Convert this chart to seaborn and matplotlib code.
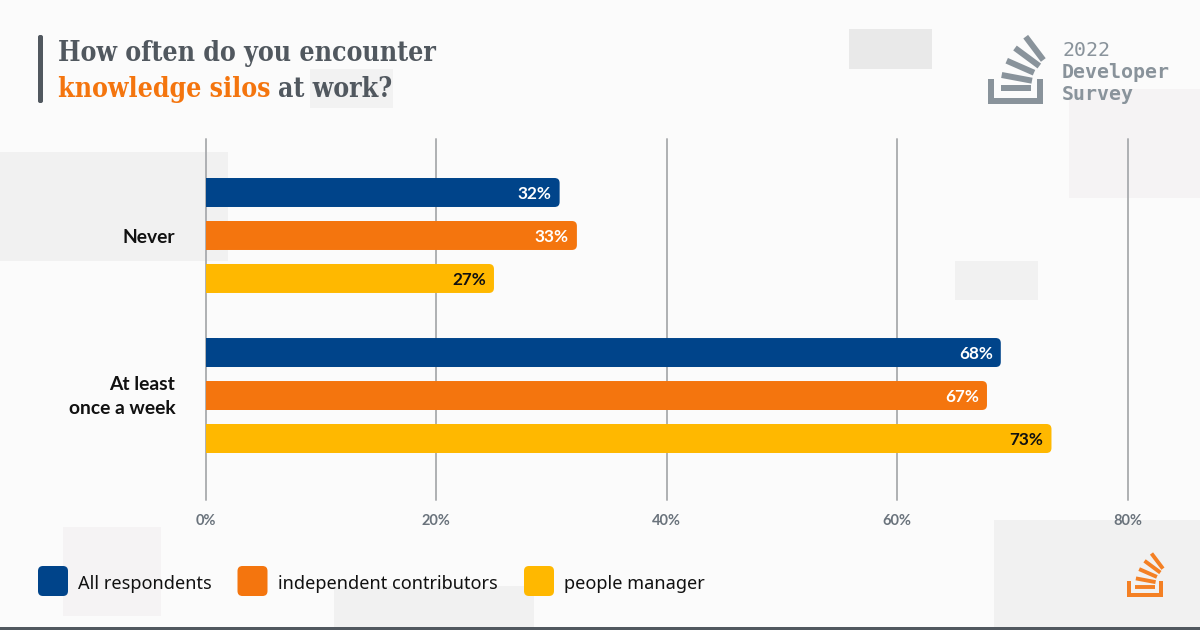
import numpy as np
import pandas as pd
import seaborn as sns
import matplotlib.pyplot as plt
from matplotlib.patches import FancyBboxPatch, Rectangle
from matplotlib.transforms import IdentityTransform

sns.set_theme(style="white")
SANS = "Noto Sans"
BOLD = "Lato"
SLAB = "DejaVu Serif"
MONO = "DejaVu Sans Mono"

# what the picture shows: bar lengths and the printed labels differ a bit
categories = ["Never", "At least\nonce a week"]
groups = ["All respondents", "independent contributors", "people manager"]
never_vals = [30.7, 32.2, 25.0]
week_vals = [69.0, 67.8, 73.4]
never_labels = ["32%", "33%", "27%"]
week_labels = ["68%", "67%", "73%"]
xticks = [0, 20, 40, 60, 80]
colors = ["#00448a", "#f4750e", "#ffb800"]
label_colors = ["white", "white", "#111111"]

GRAY = "#51585f"
BG = "#fbfbfb"
W, H = 1200, 630

df = pd.DataFrame({
    "answer": [categories[0]] * 3 + [categories[1]] * 3,
    "group": groups * 2,
    "value": never_vals + week_vals,
})

fig = plt.figure(figsize=(12, 6.3), dpi=100, facecolor=BG)

# backdrop axes in pixel coordinates, y pointing down
bg = fig.add_axes([0, 0, 1, 1], zorder=0)
bg.set_xlim(0, W)
bg.set_ylim(H, 0)
bg.axis("off")

boxes = [
    (849, 29, 83, 40, "#e9e9e9"), (310, 69, 83, 39, "#f2f2f2"),
    (1069, 89, 131, 109, "#f5f3f4"), (0, 152, 228, 109, "#f1f1f1"),
    (955, 261, 83, 39, "#f1f1f1"), (63, 527, 98, 89, "#f5f3f4"),
    (334, 586, 200, 41, "#f1f1f1"), (994, 520, 206, 107, "#f1f1f1"),
]
for x, y, w, h, c in boxes:
    bg.add_patch(Rectangle((x, y), w, h, fc=c, ec="none"))
bg.add_patch(Rectangle((0, 627), W, 3, fc=GRAY, ec="none"))


def draw_logo(x0, y0, scale, color):
    # stacked papers + tray, sizes taken from the big logo
    lw = 6 * scale * 72 / 100
    strips = [
        ((12.7, 9.3), (43.3, 9.3)), ((13.7, -4), (44, 1.7)),
        ((18.7, -18.3), (46, -6.3)), ((27, -31), (51.3, -13)),
        ((37.7, -42.3), (55.3, -19)),
    ]
    for a, b in strips:
        bg.plot([x0 + scale * a[0], x0 + scale * b[0]],
                [y0 + scale * a[1], y0 + scale * b[1]],
                color=color, lw=lw, solid_capstyle="butt")
    t = 6 * scale
    bg.add_patch(Rectangle((x0, y0), t, 25 * scale, fc=color, ec="none"))
    bg.add_patch(Rectangle((x0 + 49 * scale, y0), t, 25 * scale, fc=color, ec="none"))
    bg.add_patch(Rectangle((x0, y0 + 25 * scale - t), 55 * scale, t, fc=color, ec="none"))


draw_logo(988, 79, 1.0, "#89939b")
draw_logo(1127, 581, 0.65, "#f48024")
bg.set_xlim(0, W)
bg.set_ylim(H, 0)

# chart axes: 0-80% spans x=206..1127, y=139..500
ax = fig.add_axes([206 / W, 1 - 500 / H, 921.5 / W, 361 / H], zorder=1)
ax.patch.set_alpha(0)
sns.barplot(data=df, y="answer", x="value", hue="group", palette=colors,
            hue_order=groups, order=categories, orient="h", width=0.806,
            gap=0.326, legend=False, ax=ax, zorder=3, saturation=1)
ax.set_xlim(0, 80)
ax.set_ylim(1.653, -0.603)
ax.set_xlabel("")
ax.set_ylabel("")
sns.despine(ax=ax, left=True, bottom=True)
ax.set_xticks(xticks)
ax.set_xticklabels([f"{v}%" for v in xticks], fontfamily=BOLD, fontweight="bold",
                   fontsize=10.5, color="#6a737c")
ax.tick_params(axis="x", length=0, pad=10)
ax.tick_params(axis="y", length=0)
ax.set_yticklabels([])
# category labels as annotations, nudged to sit where the original has them
for i, (cat, dy) in enumerate(zip(categories, [-1.2, -0.8])):
    ax.annotate(cat, (0, i), xytext=(-22, dy), textcoords="offset points", ha="right",
                va="center", multialignment="right", linespacing=1.5, fontfamily=BOLD,
                fontweight="bold", fontsize=13.9, color="#111111", annotation_clip=False)
for v in xticks:
    ax.axvline(v, color="#aeb0b3", lw=1.4, zorder=1, clip_on=False)

# swap square bars for rounded ones, same place and size
fig.canvas.draw()
bars = sorted([p for p in ax.patches if p.get_width() > 0], key=lambda p: p.get_y())
printed = never_labels + week_labels
for i, p in enumerate(bars):
    (x0, y1), (x1, y0) = ax.transData.transform(
        [(p.get_x(), p.get_y()), (p.get_x() + p.get_width(), p.get_y() + p.get_height())])
    ax.add_patch(Rectangle((x0, y0), 12, y1 - y0, fc=colors[i % 3], ec="none",
                           transform=IdentityTransform(), zorder=4))
    ax.add_patch(FancyBboxPatch((x0 + 4, y0 + 4), x1 - x0 - 8, y1 - y0 - 8,
                                boxstyle="round,pad=4,rounding_size=5",
                                fc=colors[i % 3], ec="none",
                                transform=IdentityTransform(), zorder=4))
    p.set_visible(False)
    ax.annotate(printed[i], (p.get_x() + p.get_width(), p.get_y() + p.get_height() / 2),
                xytext=(-5.8, 0), textcoords="offset points", ha="right", va="center_baseline",
                color=label_colors[i % 3], fontfamily=BOLD, fontweight="bold",
                fontsize=12.3, zorder=5)

# title block
bg.add_patch(FancyBboxPatch((39.5, 36.5), 2, 65, boxstyle="round,pad=1.5,rounding_size=2",
                            fc=GRAY, ec="none"))
title_kw = dict(family=SLAB, weight="bold", stretch="condensed", fontsize=19.1, va="baseline")
bg.text(58, 61, "How often do you encounter", color=GRAY, **title_kw)
t = bg.text(58, 97, "knowledge silos", color="#f4750e", **title_kw)
fig.canvas.draw()
end = bg.transData.inverted().transform((t.get_window_extent().x1, 0))[0]
bg.text(end + 8, 97, "at work?", color=GRAY, **title_kw)

# survey wordmark
bg.text(1062, 56, "2022", family=MONO, fontsize=14.3, color="#89939b")
bg.text(1062, 78, "Developer", family=MONO, fontsize=14.3, weight="bold", color="#89939b")
bg.text(1062, 100, "Survey", family=MONO, fontsize=14.3, weight="bold", color="#89939b")

# legend
for x, c, name in zip([38, 237.5, 524], colors, groups):
    bg.add_patch(FancyBboxPatch((x + 5, 571), 20, 20, boxstyle="round,pad=5,rounding_size=5",
                                fc=c, ec="none"))
    bg.text(x + 40, 582, name, family=SANS, fontsize=13.1, color="#111111", va="center_baseline")

fig.savefig("out.png", dpi=100, facecolor=BG)
